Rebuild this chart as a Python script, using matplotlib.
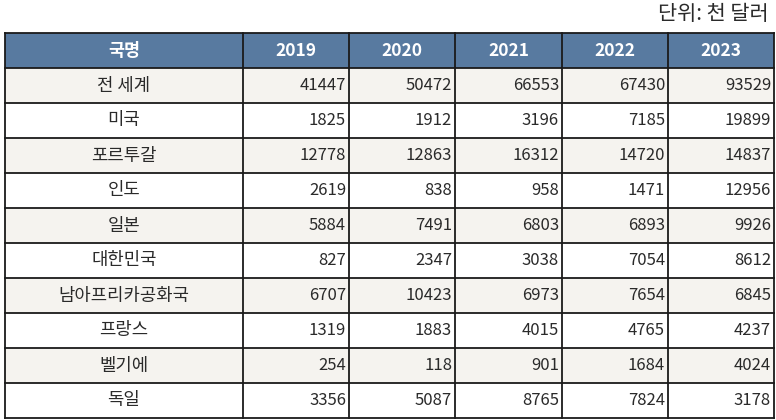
import matplotlib.pyplot as plt
from matplotlib.patches import Rectangle

plt.rcParams['font.family'] = ['Noto Sans CJK KR', 'DejaVu Sans']

Years = ['2019', '2020', '2021', '2022', '2023']
Countries = ['전 세계', '미국', '포르투갈', '인도', '일본', '대한민국',
             '남아프리카공화국', '프랑스', '벨기에', '독일']
Values = [
    [41447, 50472, 66553, 67430, 93529],
    [1825, 1912, 3196, 7185, 19899],
    [12778, 12863, 16312, 14720, 14837],
    [2619, 838, 958, 1471, 12956],
    [5884, 7491, 6803, 6893, 9926],
    [827, 2347, 3038, 7054, 8612],
    [6707, 10423, 6973, 7654, 6845],
    [1319, 1883, 4015, 4765, 4237],
    [254, 118, 901, 1684, 4024],
    [3356, 5087, 8765, 7824, 3178],
]

# layout in pixels
ColEdges = [5, 243, 349, 455, 562, 668, 774]
Top = 33
RowH = 35
HeaderColor = '#587aa0'
ShadeColor = '#f5f3ef'
LineColor = '#1a1a1a'
TextColor = '#2a2a2a'

fig = plt.figure(figsize=(7.76, 4.20), dpi=100)
ax = fig.add_axes([0, 0, 1, 1])
ax.set_xlim(0, 776)
ax.set_ylim(420, 0)
ax.axis('off')

ax.text(769, 14, '단위: 천 달러', ha='right', va='center', fontsize=15, color=TextColor)

Header = ['국명'] + Years
NRows = len(Countries) + 1
for r in range(NRows):
    y0 = Top + r * RowH
    if r == 0:
        fc = HeaderColor
    elif r % 2 == 1:
        fc = ShadeColor
    else:
        fc = 'white'
    ax.add_patch(Rectangle((ColEdges[0], y0), ColEdges[-1] - ColEdges[0], RowH,
                           facecolor=fc, edgecolor='none', zorder=1))
    yc = y0 + RowH / 2
    for c in range(len(ColEdges) - 1):
        x0, x1 = ColEdges[c], ColEdges[c + 1]
        if r == 0:
            ax.text((x0 + x1) / 2, yc, Header[c], ha='center', va='center',
                    fontsize=12.5, fontweight='bold', color='white', zorder=3)
        elif c == 0:
            ax.text((x0 + x1) / 2, yc, Countries[r - 1], ha='center', va='center',
                    fontsize=12.8, color=TextColor, zorder=3)
        else:
            ax.text(x1 - 3, yc, str(Values[r - 1][c - 1]), ha='right', va='center',
                    fontsize=12, color=TextColor, zorder=3)

# grid lines
Bottom = Top + NRows * RowH
for r in range(NRows + 1):
    y = Top + r * RowH
    ax.plot([ColEdges[0], ColEdges[-1]], [y, y], color=LineColor, lw=1.3, zorder=2)
for x in ColEdges:
    ax.plot([x, x], [Top, Bottom], color=LineColor, lw=1.3, zorder=2)

fig.savefig('out.png', dpi=100)
